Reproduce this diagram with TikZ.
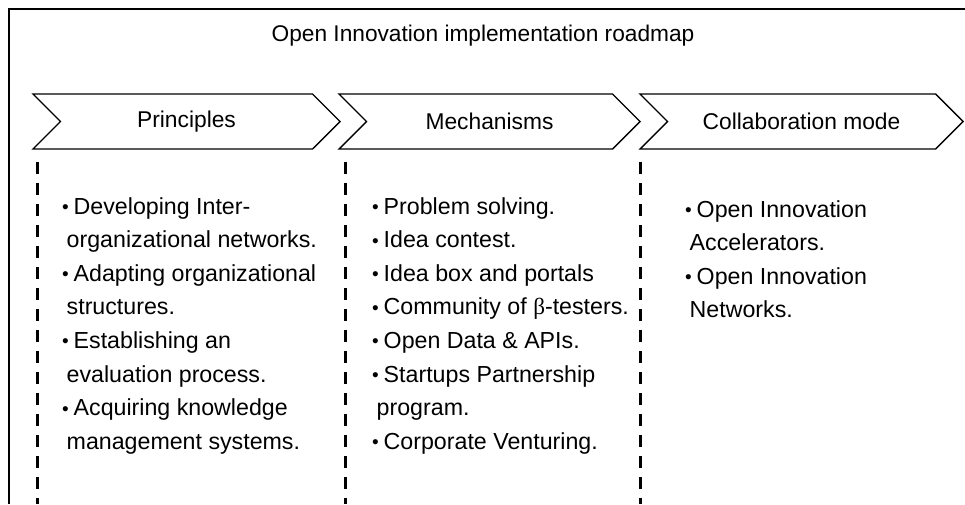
\documentclass[tikz,border=0pt]{standalone}
\usepackage{fontspec}
\setmainfont{Liberation Sans}
\newfontfamily\greekfont{Liberation Serif}
\usetikzlibrary{shapes.symbols,positioning}

% bullet and hanging indent for the lists
\newcommand\bul{\makebox[11.5pt][l]{\raisebox{0.5pt}{\fontsize{19}{19}\selectfont\textbullet}}}
\newcommand\cont{\hspace*{4.5pt}}

\begin{document}
\begin{tikzpicture}[x=1pt, y=-1pt,
  chevron/.style={signal, signal from=west, signal to=east, draw, line width=1.4pt,
    minimum height=55pt, inner sep=0pt, outer sep=0pt, font=\fontsize{22.8}{27}\selectfont},
  column/.style={align=left, anchor=north west, inner sep=0pt, font=\fontsize{23.2}{33.6}\selectfont},
  divider/.style={line width=3pt, dash pattern=on 12pt off 9pt}]
  \useasboundingbox (0,0) rectangle (965,504);

  % Frame (cut at right and bottom)
  \draw[line width=2pt] (9,504) -- (9,9) -- (965,9);

  % Title
  \node[font=\fontsize{22.7}{27}\selectfont] (title) at (483,36) {Open Innovation implementation roadmap};

  % Chevrons
  \node[chevron, minimum width=307pt] (principles) at (186.5,121.5) {Principles};
  \node[chevron, minimum width=301pt] (mechanisms) at (489.5,121.5) {Mechanisms};
  \node[chevron, minimum width=323pt] (collab) at (801.5,121.5) {Collaboration mode};

  % Dashed dividers
  \draw[divider] (37,162) -- (37,504);
  \draw[divider] (345,162) -- (345,504);
  \draw[divider] (640,162) -- (640,504);

  % Lists
  \node[column] (col1) at (62,197) {\bul Developing Inter-\\
    \cont organizational networks.\\
    \bul Adapting organizational\\
    \cont structures.\\
    \bul Establishing an\\
    \cont evaluation process.\\
    \bul Acquiring knowledge\\
    \cont management systems.};
  \node[column] (col2) at (372,197) {\bul Problem solving.\\
    \bul Idea contest.\\
    \bul Idea box and portals\\
    \bul Community of {\greekfont β}-testers.\\
    \bul Open Data \& APIs.\\
    \bul Startups Partnership\\
    \cont program.\\
    \bul Corporate Venturing.};
  \node[column] (col3) at (685,200) {\bul Open Innovation\\
    \cont Accelerators.\\
    \bul Open Innovation\\
    \cont Networks.};
\end{tikzpicture}
\end{document}
